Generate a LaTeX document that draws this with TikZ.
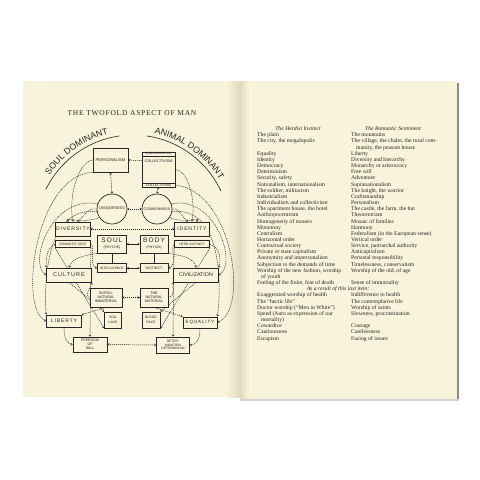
\documentclass[tikz,border=0pt]{standalone}
\usepackage{fontspec}
\setmainfont{Liberation Serif}
\setsansfont{Liberation Sans}
\newfontfamily\spacedsf[LetterSpace=18]{Liberation Sans}
\newfontfamily\spacedrm[LetterSpace=10]{Liberation Serif}
\usepackage{tikz}
\usetikzlibrary{positioning,arrows.meta,decorations.text,backgrounds}

\definecolor{page}{RGB}{248,244,220}
\definecolor{fold}{RGB}{224,217,190}
\definecolor{ink}{RGB}{40,37,34}

\begin{document}
\begin{tikzpicture}[x=1pt,y=-1pt,
  Bx/.style={draw=ink, line width=0.7pt, fill=page, text=ink, inner sep=0.5pt,
    align=center, font=\sffamily\fontsize{3.6}{4}\selectfont},
  Big/.style={Bx, font=\spacedsf\fontsize{5}{5.5}\selectfont},
  Cc/.style={Bx, circle, minimum size=30pt, inner sep=0pt},
  Tx/.style={text=ink, inner sep=0pt, align=left},
  Lk/.style={draw=ink, dash pattern=on 1.2pt off 0.8pt, line width=0.45pt,
    -{Straight Barb[length=1.6pt,width=2.2pt]}},
  Pr/.style={Lk, {Straight Barb[length=1.6pt,width=2.2pt]}-{Straight Barb[length=1.6pt,width=2.2pt]}},
  Sl/.style={draw=ink, line width=0.6pt}]
\useasboundingbox (0,0) rectangle (480,480);

% title and arc labels
\node[text=ink, font=\spacedrm\fontsize{7.5}{8}\selectfont] (ttl) at (132,113) {THE TWOFOLD ASPECT OF MAN};
\path[decorate, decoration={text along path, text align=center,
  text={|\color{ink}\sffamily\fontsize{8.8}{10}\selectfont|SOUL DOMINANT}}]
  (133,232) ++(207:101) arc[start angle=207, end angle=263, radius=101];
\path[decorate, decoration={text along path, text align=center,
  text={|\color{ink}\sffamily\fontsize{8.8}{10}\selectfont|ANIMAL DOMINANT}}]
  (133,232) ++(277:101) arc[start angle=277, end angle=334, radius=101];
\draw[ink, line width=0.6pt] (133,232) ++(206:97) arc[start angle=206, end angle=262, radius=97];
\draw[ink, line width=0.6pt] (133,232) ++(278:97) arc[start angle=278, end angle=335, radius=97];

% upper tier
\node[Bx, minimum width=35pt, minimum height=24pt, font=\sffamily\fontsize{4.1}{4.5}\selectfont] at (110.5,160) (per) {PERSONALISM};
\node[Bx, minimum width=33pt, minimum height=35pt] at (158.5,169.5) (coll) {};
\node[Bx, anchor=north, minimum width=33pt, font=\sffamily\fontsize{3.2}{3.5}\selectfont] at (coll.north) (indiv) {(INDIVIDUALISM)};
\node[Tx, below=3pt of indiv, font=\sffamily\fontsize{3.8}{4}\selectfont] (collm) {COLLECTIVISM};
\node[Bx, anchor=south, minimum width=33pt, font=\sffamily\fontsize{3.4}{3.8}\selectfont] at (coll.south) (collb) {COLLECTIVISM};
\node[Cc, font=\sffamily\fontsize{3.9}{4}\selectfont] at (112,209) (uni) {UNIQUENESS};
\node[Cc, font=\sffamily\fontsize{3.6}{4}\selectfont] at (157,209) (com) {COMMONNESS};

% middle tier
\node[Big, minimum width=33pt, minimum height=14pt] at (73,229) (div) {DIVERSITY};
\node[Bx, below=4pt of div, minimum width=35pt, minimum height=7pt, font=\sffamily\fontsize{3.3}{3.5}\selectfont] (rom) {ROMANTIC SENT};
\node[Big, minimum width=35pt, minimum height=14pt] at (192,229) (ide) {IDENTITY};
\node[Bx, below=4pt of ide, minimum width=35pt, minimum height=7pt, font=\sffamily\fontsize{3.3}{3.5}\selectfont] (herd) {HERD INSTINCT};
\node[Bx, minimum width=29pt, minimum height=18pt, font=\spacedsf\fontsize{6.5}{6}\selectfont] at (112,244) (soul)
  {SOUL\\{\sffamily\fontsize{3.5}{4}\selectfont(PSYCHE)}};
\node[Bx, minimum width=28pt, minimum height=18pt, font=\spacedsf\fontsize{6.5}{6}\selectfont] at (154,244) (body)
  {BODY\\{\sffamily\fontsize{3.5}{4}\selectfont(PHYSIS)}};
\node[Bx, below=10pt of soul, minimum width=29pt, minimum height=9pt, font=\sffamily\fontsize{3.3}{3.5}\selectfont] (intel) {INTELLIGENCE};
\node[Bx, below=10pt of body, minimum width=28pt, minimum height=9pt] (inst) {INSTINCT};
\node[Big, minimum width=45pt, minimum height=14pt, font=\spacedsf\fontsize{5.5}{6}\selectfont] at (69,275) (cult) {CULTURE};
\node[Bx, minimum width=45pt, minimum height=14pt, font=\sffamily\fontsize{5.3}{6}\selectfont] at (196,275) (civ) {CIVILIZATION};
\node[Bx, minimum width=32pt, minimum height=19pt, font=\sffamily\fontsize{3.7}{4}\selectfont] at (106,297.5) (supra) {SUPRA-\\NATURAL\\IMMATERIAL};
\node[Bx, minimum width=28pt, minimum height=19pt, font=\sffamily\fontsize{3.7}{4}\selectfont] at (154,297.5) (nat) {THE\\NATURAL\\MATERIAL};

% lower tier
\node[Big, minimum width=35pt, minimum height=12pt] at (64,321) (lib) {LIBERTY};
\node[Bx, minimum width=17pt, minimum height=16pt, font=\sffamily\fontsize{3.4}{4.5}\selectfont] at (113,320) (soil) {SOIL\\LAND};
\node[Bx, minimum width=18pt, minimum height=16pt, font=\sffamily\fontsize{3.4}{4.5}\selectfont] at (151,320) (blood) {BLOOD\\RACE};
\node[Big, minimum width=34pt, minimum height=11pt, font=\spacedsf\fontsize{4.6}{5}\selectfont] at (200,322.5) (equ) {EQUALITY};
\node[Bx, minimum width=34pt, minimum height=15pt] at (90,344.5) (free) {FREEDOM\\OF\\WILL};
\node[Bx, minimum width=33pt, minimum height=16pt, font=\sffamily\fontsize{3.3}{3.8}\selectfont] at (173,345) (det) {DETER-\\MINATION\\DETERMINISM};

% right page
\node[text=ink, font=\itshape\fontsize{5.7}{6.16}\selectfont, anchor=base] (hh) at (298,130.5) {The Herdist Instinct};
\node[text=ink, font=\itshape\fontsize{5.7}{6.16}\selectfont, anchor=base] (hr) at (393,130.5) {The Romantic Sentiment};
\node[Tx, anchor=north west, font=\fontsize{5.7}{6.16}\selectfont] (colh) at (257,132.6) {%
The plain\\
The city, the megalopolis\\
\mbox{}\\
Equality\\
Identity\\
Democracy\\
Determinism\\
Security, safety\\
Nationalism, internationalism\\
The soldier, militarism\\
Industrialism\\
Individualism and collectivism\\
The apartment house, the hotel\\
Anthropocentrism\\
Homogeneity of masses\\
Monotony\\
Centralism\\
Horizontal order\\
Contractual society\\
Private or state capitalism\\
Anonymity and impersonalism\\
Subjection to the demands of time\\
Worship of the new fashion, worship\\
\hspace*{4pt}of youth\\
Feeling of the finite, fear of death\\
\mbox{}\\
Exaggerated worship of health\\
The ``hectic life''\\
Doctor worship (``Men in White'')\\
Speed (Auto as expression of our\\
\hspace*{4pt}mortality)\\
Cowardice\\
Cautiousness\\
Escapism};
\node[Tx, anchor=north west, font=\fontsize{5.7}{6.16}\selectfont] (colr) at (351,132.6) {%
The mountains\\
The village, the chalet, the rural com-\\
\hspace*{5pt}munity, the peasant house\\
Liberty\\
Diversity and hierarchy\\
Monarchy or aristocracy\\
Free will\\
Adventure\\
Supranationalism\\
The knight, the warrior\\
Craftsmanship\\
Personalism\\
The castle, the farm, the hut\\
Theocentrism\\
Mosaic of families\\
Harmony\\
Federalism (in the European sense)\\
Vertical order\\
Service, patriarchal authority\\
Anticapitalism\\
Personal responsibility\\
Timelessness, conservatism\\
Worship of the old, of age\\
\mbox{}\\
Sense of immortality\\
\mbox{}\\
Indifference to health\\
The contemplative life\\
Worship of saints\\
Slowness, procrastination\\
\mbox{}\\
Courage\\
Carelessness\\
Facing of issues};
\node[text=ink, font=\itshape\fontsize{5.7}{6.16}\selectfont, anchor=base] (res) at (338,290.5) {As a result of this last item:};

\begin{scope}[on background layer]
% pages
\fill[page] (23,81) rectangle (240,397);
\fill[page] (240,81) rectangle (457,399);
\shade[left color=page, right color=fold] (226,81) rectangle (240,397);
\shade[left color=fold, right color=page] (240,81) rectangle (249,399);
\fill[black!45] (457,83) rectangle (459,399);
\fill[black!18] (240,399) rectangle (459,401);

% pairs
\draw[Pr] (per.east) -- (collm.west);
\draw[Pr] (uni.east) -- (com.west);
\draw[Pr] (div.east) -- (ide.west);
\draw[Pr] (soul.east) -- (body.west);
\draw[Pr] (intel.east) -- (inst.west);
\draw[Pr] (supra.east) -- (nat.west);
\draw[Pr] (free.east) -- (det.west);
\draw[Pr] (per.south) -- (uni.north);
\draw[Pr] (collb.south) -- (com.north);
\draw[Sl] (soul.south) -- (intel.north);
\draw[Sl] (body.south) -- (inst.north);

% left loops
\draw[Lk] (per.west) .. controls (78,162) and (68,198) .. (div.north);
\draw[Lk] (per.south west) .. controls (35,175) and (18,310) .. (lib.west);
\draw[Lk] (uni.west) .. controls (86,208) and (86,215) .. (div.60);
\draw[Lk] (uni.160) .. controls (50,195) and (28,265) .. (cult.west);
\draw[Lk] (uni.190) .. controls (46,206) and (44,282) .. (lib.north west);
\draw[Lk] (uni.215) .. controls (75,225) and (62,215) .. (div.120);
\draw[Lk] (rom.west) .. controls (46,248) and (46,260) .. (cult.north west);
\draw[Lk] (soul.south west) .. controls (82,256) and (72,258) .. (cult.north);
\draw[Lk] (rom.east) .. controls (96,248) and (88,265) .. (intel.west);
\draw[Lk] (supra.west) .. controls (84,295) and (90,290) .. (cult.south east);
\draw[Lk] (cult.south) -- (soil.north west);
\draw[Lk] (rom.south west) -- (soil.south west);
\draw[Lk] (supra.south) -- (lib.north east);
\draw[Lk] (lib.south) .. controls (64,340) and (68,344) .. (free.west);
\draw[Lk] (rom.south east) -- (free.north);

% right loops
\draw[Lk] (coll.east) .. controls (188,170) and (196,200) .. (ide.north);
\draw[Lk] (collb.east) .. controls (232,190) and (250,310) .. (equ.east);
\draw[Lk] (com.east) .. controls (180,208) and (180,215) .. (ide.120);
\draw[Lk] (com.20) .. controls (216,195) and (238,265) .. (civ.east);
\draw[Lk] (com.-10) .. controls (221,206) and (222,282) .. (equ.north east);
\draw[Lk] (com.-35) .. controls (190,225) and (203,215) .. (ide.60);
\draw[Lk] (herd.east) .. controls (221,248) and (221,260) .. (civ.north east);
\draw[Lk] (body.south east) .. controls (184,256) and (194,258) .. (civ.north);
\draw[Lk] (herd.west) .. controls (170,248) and (178,265) .. (inst.east);
\draw[Lk] (nat.east) .. controls (176,295) and (172,290) .. (civ.south west);
\draw[Lk] (civ.south) -- (blood.north east);
\draw[Lk] (herd.south east) -- (blood.south east);
\draw[Lk] (nat.south) -- (equ.north west);
\draw[Lk] (equ.south) .. controls (200,340) and (196,345) .. (det.east);
\draw[Lk] (herd.south west) -- (det.north);
\end{scope}
\end{tikzpicture}
\end{document}
